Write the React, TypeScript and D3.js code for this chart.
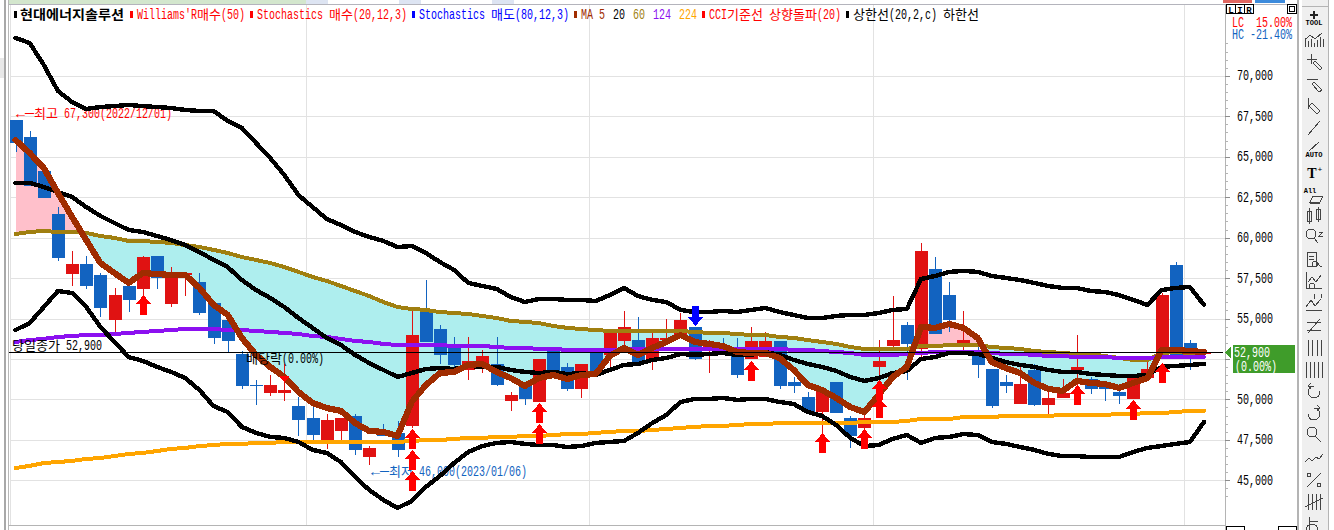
import React from 'react';
import * as d3 from 'd3';

const W = 1334;
const H = 530;

// daily candles
const opens = [67300,66250,64150,61500,57800,58400,57700,54950,57050,56850,58900,55950,57700,57300,56000,54950,52850,50900,50450,50450,49600,48900,47500,48100,49000,46450,48150,47950,48400,55450,54400,53350,51850,52150,52200,49950,50900,49850,53100,52050,50650,52900,52800,53650,53700,52550,53700,53850,54500,53250,53200,52950,52550,52650,53650,51100,50200,49250,51100,48900,48250,52050,53350,54650,53150,58100,56500,53400,53100,51900,51100,49750,51850,49700,50100,51850,51300,50800,50500,50050,51350,52800,58350,53500,52900];
const highs = [67300,66600,64150,61950,59200,58900,57850,56900,57050,58900,58900,58200,57850,57850,56000,54950,53000,51250,51550,52200,50200,49600,49150,48900,49150,47150,48500,48700,55550,57400,54650,53900,53900,53100,53900,50500,50900,52550,53100,52300,52200,52900,54300,55500,55100,54150,55000,55350,54500,53700,53850,53850,54500,54200,53650,51400,50500,50600,51100,49000,49050,53700,56400,54800,59700,58850,57300,55500,53400,51900,51550,52150,52200,50600,51300,54000,51400,51050,51000,51350,52450,56600,58500,53700,52900];
const lows = [65300,63200,62500,58600,57050,56850,55150,54150,55450,56500,56850,55750,56400,55250,53450,52950,50650,49700,50250,49950,47750,47500,46950,47500,46600,46000,47750,46450,48250,53600,52200,51950,51250,51650,50850,49300,49700,49850,51650,50550,50100,51550,52050,53100,52300,51850,53700,53850,52450,51650,52950,51350,52550,52650,50650,50450,49250,47950,49200,47050,47500,51500,53250,51250,52600,54100,54200,53100,51350,49500,50450,49750,49650,49150,50100,50800,50350,49950,49750,50050,51250,52650,52700,51850,52900];
const closes = [65900,63200,62500,58800,58400,57050,55700,56500,56200,58850,57550,57600,57850,55350,53850,53650,50850,50850,50900,50600,48750,47850,48750,48900,46900,47050,47750,46900,54000,53600,52800,52150,52400,52700,50900,50300,50050,52550,51650,50650,52200,51550,54150,54500,52300,53850,53850,54950,52550,53400,52950,51550,53650,53650,50850,50850,49250,50600,49200,47750,48900,52400,53700,53450,59200,54100,54950,53700,52150,49600,50850,51000,49700,50100,50450,52050,50650,50650,50250,51350,51900,56500,52700,52800,52900];

// moving averages
const ma5 = [66060,65260,64330,62790,61310,59880,58460,57840,57230,57840,57780,57720,57720,56920,55870,55250,53830,52780,52040,51420,50490,49810,49500,49320,48570,48080,48020,47770,49870,50920,51660,51730,52160,52220,51730,51350,50860,51350,51540,51290,51540,51600,52710,53210,52780,53210,53580,54010,53580,53460,53330,52960,52900,52900,52590,51850,50920,50610,50120,49560,49250,50300,51420,52040,54510,54450,54690,54450,53830,52340,51970,51660,51050,50680,50550,51170,51050,50980,50740,51050,51350,53090,53090,53020,52960];
const ma20 = [63410,63410,63160,62850,62540,61920,61370,60930,60500,60380,60130,59880,59570,59140,58650,58210,57410,56790,56300,55740,55060,54450,53830,53390,52780,52280,51850,51420,51660,51910,51970,51910,52100,52040,52040,51850,51730,51660,51730,51600,51660,51540,51850,52160,52220,52470,52590,52840,52780,52840,52900,52780,52780,52960,52780,52470,52220,52040,51790,51420,51170,51350,51660,51790,52530,52650,52900,52900,52840,52590,52340,52160,52040,51850,51730,51730,51600,51540,51480,51480,51540,52040,52100,52160,52220];
const ma60 = [60250,60380,60440,60380,60380,60320,60130,60010,59820,59820,59760,59700,59570,59450,59270,59080,58830,58650,58460,58210,57910,57600,57350,57040,56730,56420,56050,55740,55620,55560,55430,55370,55310,55190,55060,54880,54820,54750,54570,54450,54380,54320,54260,54260,54260,54260,54260,54260,54200,54140,54140,54070,54010,54010,53890,53830,53700,53580,53460,53270,53150,53150,53150,53150,53330,53330,53390,53390,53390,53270,53210,53150,53020,52960,52900,52840,52840,52710,52590,52470,52470,52900,52960,52900,52840];
const ma124 = [53580,53700,53770,53890,53950,54010,54010,54070,54140,54200,54260,54320,54380,54380,54380,54320,54320,54260,54200,54140,54070,53950,53890,53770,53640,53580,53460,53390,53390,53390,53390,53330,53330,53330,53270,53210,53210,53150,53150,53090,53090,53090,53090,53090,53150,53150,53150,53150,53150,53150,53150,53150,53150,53150,53150,53090,53090,53020,52960,52900,52780,52780,52780,52840,52900,52960,52960,52960,52960,52900,52840,52840,52780,52710,52710,52650,52650,52650,52590,52590,52590,52650,52650,52650,52650];
const ma224 = [45790,45920,46100,46160,46230,46350,46410,46530,46660,46720,46840,46970,47030,47150,47210,47280,47280,47340,47340,47400,47400,47400,47400,47400,47400,47400,47400,47400,47460,47520,47520,47590,47650,47650,47710,47710,47770,47770,47830,47890,47890,47960,48020,48080,48080,48140,48200,48270,48330,48390,48390,48450,48510,48510,48570,48570,48570,48570,48570,48570,48640,48640,48640,48700,48820,48820,48820,48940,48940,48940,49010,49010,49010,49010,49070,49070,49070,49070,49130,49130,49190,49190,49250,49320,49320];

// bollinger bands (20,2)
const upper = [72370,72060,70700,69090,68410,67980,68100,68160,68230,68160,68100,68040,67920,67860,67860,67240,66810,65880,64950,63900,62660,61920,61180,60810,60380,60070,59820,59450,59510,59080,58520,58030,57230,57040,56860,56360,56050,56240,56240,56180,56180,56110,56480,56920,56420,56180,56050,55560,55430,55430,55500,55430,55560,55680,55430,55250,55060,55060,55190,55250,55250,55370,55560,55620,57470,57660,57910,57970,57910,57660,57540,57410,57230,57040,56920,56920,56730,56670,56480,56180,55870,56790,56920,56980,55870];
const lower = [54320,54750,55740,56730,56610,55740,54510,53580,52650,52410,52040,51730,51350,50610,49620,49250,48330,47960,47710,47650,47400,46910,46720,46160,45240,44430,43820,43320,43750,44620,45300,46100,46780,47150,47340,47400,47280,47210,47210,47090,47150,47340,47400,47460,47960,48570,49070,49870,50060,50060,50120,50000,50060,50060,49870,49750,49250,49010,48450,47650,47150,47210,47590,47830,47340,47650,47710,47890,47830,47400,47280,47090,46910,46660,46530,46530,46470,46470,46470,46780,47030,47150,47280,47400,48640];

// signal arrows: candle index and the price at the arrow tip
const buyIdx = [9, 28, 28, 28, 37, 37, 52, 57, 60, 61, 61, 75, 79, 81];
const buyTip = [56480, 48200, 46900, 45610, 49810, 48510, 52400, 47960, 48200, 51230, 50120, 50920, 50000, 52280];
const sellIdx = [48];
const sellTip = [54570];
const cciIdx = [19];
const cciTip = [51110];

const gridPrices = [70000, 67500, 65000, 62500, 60000, 57500, 55000, 52500, 50000, 47500, 45000];
const labelPrices = [70000, 67500, 65000, 62500, 60000, 57500, 55000, 50000, 47500, 45000];
const minorPrices = d3.range(44000, 72001, 500);
const gridDays = [306, 589, 873, 1184];

const lastPrice = 52900;

const UP = '#e01212';
const DOWN = '#1263c0';
const MONO = "'Liberation Mono', 'DejaVu Sans Mono', monospace";
const KR = "'Noto Sans CJK KR', 'Noto Sans', sans-serif";

const x = d3.scaleLinear().domain([0, 84]).range([15.5, 1204]);
const y = d3.scaleLinear().domain([45000, 70000]).range([480.8, 76.3]);

const idx = d3.range(85);
const lineOf = (vals: number[]) =>
  d3.line<number>().x((i) => x(i)).y((i) => y(vals[i]))(idx) as string;
const between = (a: number[], b: number[]) =>
  d3.area<number>().x((i) => x(i)).y0((i) => y(a[i])).y1((i) => y(b[i]))(idx) as string;
const aboveOf = (vals: number[]) =>
  d3.area<number>().x((i) => x(i)).y0(0).y1((i) => y(vals[i]))(idx) as string;
const belowOf = (vals: number[]) =>
  d3.area<number>().x((i) => x(i)).y0(H).y1((i) => y(vals[i]))(idx) as string;

const isWide = (c: string) => /[\u3131-\uD7A3]/.test(c);
const cells = (s: string) => Array.from(s).reduce((n, c) => n + (isWide(c) || c === '─' ? 2 : 1), 0);

// old bitmap look of the HTS font: half cells 6px wide, hangul 12px
const Label: React.FC<{ t: string; px: number; py: number; fill: string; bold?: boolean; cell?: number }> = ({ t, px, py, fill, bold, cell = 6 }) => {
  const runs = t.match(/[\u3131-\uD7A3]+|[^\u3131-\uD7A3]+/g) ?? [];
  let at = px;
  return (
    <text y={py} fill={fill} fontWeight={bold ? 700 : 400} style={{ whiteSpace: 'pre' }}>
      {runs.map((r, i) => {
        const start = at;
        const len = cells(r) * cell;
        at += len;
        return (
          <tspan
            key={i}
            x={start}
            textLength={len}
            lengthAdjust="spacingAndGlyphs"
            fontFamily={isWide(r[0]) ? KR : MONO}
            fontSize={isWide(r[0]) ? 13 : 14}
          >
            {r}
          </tspan>
        );
      })}
    </text>
  );
};

const legend: [string, number, string][] = [
  ["Williams'R매수(50)", 137, '#ff0000'],
  ['Stochastics 매수(20,12,3)', 257, '#ff0000'],
  ['Stochastics 매도(80,12,3)', 419, '#0000ff'],
  ['MA', 581, '#a02c00'],
  ['5', 599, '#a02c00'],
  ['20', 613, '#000000'],
  ['60', 633, '#a07f10'],
  ['124', 653, '#8c10f0'],
  ['224', 679, '#ffa500'],
  ['CCI기준선 상향돌파(20)', 709, '#ff0000'],
  ['상한선(20,2,c) 하한선', 853, '#000000'],
];
const legendMarks: [number, string][] = [
  [14, '#000'], [130, '#ff0000'], [250, '#ff0000'], [412, '#0000ff'], [574, '#a02c00'], [702, '#ff0000'], [846, '#000'],
];

// toolbar glyphs, roughly, centred on 0,0
const toolIcons: [number, string][] = [
  [40, 'M-9 7V-2M-6 7V1M-3 7V-1M0 7V3M3 7V0M6 7V-3M9 7V-1M-9 0L-4-5L1-1L8-7'],
  [62, 'M-7-3H3M-3-8V2M1-1L8 6L6 8L-1 1Z'],
  [85, 'M-7-6H4M0-3L8 5L5 7L-2-1Z'],
  [106, 'M-6-8V3M-2-3L6 5L3 8L-5 0Z'],
  [128, 'M-6 7L6-7'],
  [150, 'M-5 1L5-8'],
  [195, 'M-4 7L-1 1H9L6 7ZM-4 7V8H6'],
  [216, 'M-7-5H-3V5H-7ZM-5-8V8M2-7H6V3H2ZM4-9V6'],
  [237, 'M-8-3A5 5 0 1 0 2-3A5 5 0 1 0-8-3M0 1L4 6M5-5H9L5-1H9'],
  [259, 'M-7-7H2V7H-7ZM-5-3H0M-5 0H0M1 2A3 3 0 1 0 1.1 2M3 5L8 8'],
  [280, 'M-8-8V8H8M-6 2L-2-3L2 2L7-5M-2 3A3 3 0 1 0-1.9 3'],
  [302, 'M-8 5L-3-2L1 4L7-3M-8 8H8M0-8V-3M7-8V-4'],
  [326, 'M-7-4H7M-7 4H7M6-7L-6 7'],
  [348, 'M-6-8V8M-2-8V8M3-8V8M7-8V8'],
  [370, 'M-8-8V8M-4-8V8M0-8V8M4-8V8M8-8V8'],
  [392, 'M6-1A6 6 0 1 1 0-6H-5M-3-9L-6-6L-3-3'],
  [414, 'M-6-1A6 6 0 1 0 0-6H5M3-9L6-6L3-3'],
  [435, 'M-7-3A5 5 0 1 0 3-3A5 5 0 1 0-7-3M1 1L7 7'],
  [458, 'M-9 4L-5 0L-2 3L2-1L5 1L9-4'],
  [480, 'M-7 7L7-7M-7-5A2 2 0 1 0-3-5A2 2 0 1 0-7-5M3 5A2 2 0 1 0 7 5A2 2 0 1 0 3 5'],
  [502, 'M-6-8V8M-2-8V8M2-8V8M6-8V8M-9 5L9-4'],
  [525, 'M-5-8V8M-5-4H4M-8 5A6 6 0 1 0 4 5A6 6 0 1 0-8 5'],
];

const Arrow: React.FC<{ cx: number; tip: number; dir: 1 | -1; fill: string }> = ({ cx, tip, dir, fill }) => {
  // dir 1 points up, tip is the top end
  const head = 9;
  const len = 20;
  const d = d3.path();
  d.moveTo(cx, tip);
  d.lineTo(cx + 7.5, tip + dir * head);
  d.lineTo(cx + 3.5, tip + dir * head);
  d.lineTo(cx + 3.5, tip + dir * len);
  d.lineTo(cx - 3.5, tip + dir * len);
  d.lineTo(cx - 3.5, tip + dir * head);
  d.lineTo(cx - 7.5, tip + dir * head);
  d.closePath();
  return <path d={d.toString()} fill={fill} />;
};

export default function App() {
  const plotL = 10;
  const plotR = 1225;
  const top = 5;
  const bottom = 525;

  return (
    <svg width={W} height={H} style={{ position: 'absolute', left: 0, top: 0, background: '#fff' }} shapeRendering="crispEdges">
      <defs>
        <clipPath id="aboveMa60"><path d={aboveOf(ma60)} /></clipPath>
        <clipPath id="belowMa60"><path d={belowOf(ma60)} /></clipPath>
      </defs>

      {/* window chrome */}
      <rect x={8} y={0} width={298} height={4} fill="#d3e6cd" />
      <rect x={306} y={0} width={22} height={4} fill="#dde4f2" />
      <rect x={399} y={0} width={22} height={4} fill="#dde4f2" />
      <rect x={492} y={0} width={22} height={4} fill="#dde4f2" />
      <rect x={1223} y={0} width={29} height={3} fill="#e06660" />
      <rect x={1255} y={0} width={30} height={3} fill="#3d8bdc" />
      <line x1={8} x2={1299} y1={4.5} y2={4.5} stroke="#b4b4bc" />
      <rect x={0} y={58} width={4} height={20} fill="#e8e8e8" />
      <line x1={4.5} x2={4.5} y1={0} y2={H} stroke="#a8a8a8" strokeWidth={2} />
      <line x1={8.5} x2={8.5} y1={0} y2={H} stroke="#b8b8b8" />
      <line x1={9} x2={plotR} y1={525.5} y2={525.5} stroke="#b4b4b4" />

      {/* grid */}
      {gridPrices.map((p) => (
        <line key={p} x1={plotL} x2={plotR} y1={y(p)} y2={y(p)} stroke="#e2e2e2" />
      ))}
      {[10, ...gridDays].map((gx) => (
        <line key={gx} x1={gx} x2={gx} y1={top} y2={bottom} stroke="#e2e2e2" />
      ))}

      {/* ma5 / ma60 cloud */}
      <path d={between(ma5, ma60)} fill="#aeeeee" clipPath="url(#belowMa60)" />
      <path d={between(ma5, ma60)} fill="#ffc0cb" clipPath="url(#aboveMa60)" />

      {/* notes sit under the lines */}
      <Label t="←─최고 67,300(2022/12/01)" px={16} py={118} fill="#ff0000" />
      <Label t="←─최저 46,000(2023/01/06)" px={371} py={476} fill="#1263c0" />

      {/* candles */}
      {idx.map((i) => {
        const color = closes[i] >= opens[i] && i !== 17 ? UP : DOWN;
        const bodyTop = y(Math.max(opens[i], closes[i]));
        const bodyH = Math.max(1, y(Math.min(opens[i], closes[i])) - bodyTop);
        const cx = Math.round(x(i));
        return (
          <g key={i}>
            <line x1={cx + 0.5} x2={cx + 0.5} y1={y(highs[i])} y2={y(lows[i])} stroke={color} />
            <rect x={cx - 6} y={bodyTop} width={13} height={bodyH} fill={color} />
          </g>
        );
      })}

      {/* lines */}
      <g fill="none" strokeLinejoin="round" strokeLinecap="round">
        <path d={lineOf(ma224)} stroke="#ffa500" strokeWidth={4} />
        <path d={lineOf(ma60)} stroke="#a07f10" strokeWidth={4} />
        <path d={lineOf(ma124)} stroke="#8c10f0" strokeWidth={4} />
        <path d={lineOf(upper)} stroke="#000" strokeWidth={4.4} />
        <path d={lineOf(lower)} stroke="#000" strokeWidth={4.4} />
        <path d={lineOf(ma20)} stroke="#000" strokeWidth={4.4} />
        <path d={lineOf(ma5)} stroke="#a02c00" strokeWidth={6.2} />
      </g>

      {/* signals */}
      {buyIdx.map((d, i) => (
        <Arrow key={`b${i}`} cx={Math.round(x(d)) + 0.5} tip={y(buyTip[i])} dir={1} fill="#ff0000" />
      ))}
      {sellIdx.map((d, i) => (
        <Arrow key={`s${i}`} cx={Math.round(x(d)) + 0.5} tip={y(sellTip[i])} dir={-1} fill="#0000ff" />
      ))}
      {cciIdx.map((d, i) => (
        <path
          key={`c${i}`}
          d={`M${Math.round(x(d)) + 0.5} ${y(cciTip[i])}l-5.5 -6h11z`}
          fill="#ff0000"
        />
      ))}

      {/* last close */}
      <line x1={9} x2={1223} y1={y(lastPrice)} y2={y(lastPrice)} stroke="#000" />
      <Label t="당일종가 52,900" px={12} py={350} fill="#000" />
      <Label t="배당락(0.00%)" px={246} py={363} fill="#000" />

      {/* legend */}
      <Label t="현대에너지솔루션" px={20} py={19} fill="#000" bold cell={6.5} />
      {legendMarks.map(([mx, c]) => (
        <rect key={mx} x={mx} y={11} width={3} height={7} fill={c} />
      ))}
      {legend.map(([t, lx, c]) => (
        <Label key={lx} t={t} px={lx} py={19} fill={c} />
      ))}

      {/* price axis */}
      <line x1={plotR + 0.5} x2={plotR + 0.5} y1={top} y2={H} stroke="#b4b4b4" />
      {minorPrices.map((p) => (
        <line key={p} x1={plotR} x2={plotR + 3} y1={y(p)} y2={y(p)} stroke="#b4b4b4" />
      ))}
      {gridPrices.map((p) => (
        <line key={p} x1={plotR} x2={plotR + 5} y1={y(p)} y2={y(p)} stroke="#8c8c8c" />
      ))}
      {labelPrices.map((p) => (
        <text
          key={p}
          x={1237}
          y={y(p) + 4}
          fontFamily={MONO}
          fontSize={14}
          textLength={36}
          lengthAdjust="spacingAndGlyphs"
          fill="#000"
        >
          {d3.format(',')(p)}
        </text>
      ))}
      <text x={1232} y={27} fontFamily={MONO} fontSize={14} textLength={60} lengthAdjust="spacingAndGlyphs" fill="#ff0000" style={{ whiteSpace: 'pre' }}>LC  15.00%</text>
      <text x={1232} y={39} fontFamily={MONO} fontSize={14} textLength={60} lengthAdjust="spacingAndGlyphs" fill="#1263c0" style={{ whiteSpace: 'pre' }}>HC -21.40%</text>

      {/* L I R buttons */}
      {['L', 'I', 'R'].map((b, i) => (
        <g key={b}>
          <rect x={1226.5 + i * 9} y={4.5} width={9} height={9} fill="#fff" stroke="#000" />
          <text x={1231 + i * 9} y={12.5} fontFamily={MONO} fontSize={9} fontWeight={700} textAnchor="middle">{b}</text>
        </g>
      ))}
      <rect x={1287.5} y={4.5} width={9} height={9} fill="#fff" stroke="#000" />
      <rect x={1289.5} y={6.5} width={5} height={5} fill="none" stroke="#000" />
      <rect x={1226.5} y={526.5} width={18} height={6} fill="#fff" stroke="#000" />
      <rect x={1278.5} y={526.5} width={18} height={6} fill="#fff" stroke="#000" />

      {/* last price tag */}
      <path d={`M1225 ${y(lastPrice)}l6 -6v12z`} fill="#3f9c2a" />
      <rect x={1233} y={345} width={62} height={28} fill="#3f9c2a" />
      <text x={1234} y={357} fontFamily={MONO} fontSize={14} textLength={36} lengthAdjust="spacingAndGlyphs" fill="#fff">52,900</text>
      <text x={1235} y={371} fontFamily={MONO} fontSize={14} textLength={42} lengthAdjust="spacingAndGlyphs" fill="#fff">(0.00%)</text>

      {/* toolbar */}
      <line x1={1298} x2={1298} y1={0} y2={H} stroke="#b4b4b4" strokeWidth={2} />
      <rect x={1302} y={0} width={26} height={H} fill="#efefef" />
      <line x1={1302} x2={1328} y1={6.5} y2={6.5} stroke="#b4b4b4" />
      <line x1={1328} x2={1328} y1={0} y2={H} stroke="#b4b4b4" />
      <path d="M1314 11v8M1310 15h8" stroke="#222" strokeWidth={2} />
      <text x={1314} y={25} fontFamily={MONO} fontSize={7} fontWeight={700} textAnchor="middle">TOOL</text>
      <text x={1314} y={157} fontFamily={MONO} fontSize={7} fontWeight={700} textAnchor="middle">AUTO</text>
      <text x={1312} y={178} fontFamily="'Liberation Serif', serif" fontSize={14} fontWeight={700} textAnchor="middle">T</text>
      <text x={1320} y={172} fontFamily={MONO} fontSize={8} textAnchor="middle">+</text>
      <text x={1310} y={193} fontFamily={MONO} fontSize={7} fontWeight={700} textAnchor="middle">All</text>
      {toolIcons.map(([iy, d]) => (
        <path key={iy} d={d} transform={`translate(1314,${iy})`} fill="none" stroke="#444" />
      ))}
    </svg>
  );
}
